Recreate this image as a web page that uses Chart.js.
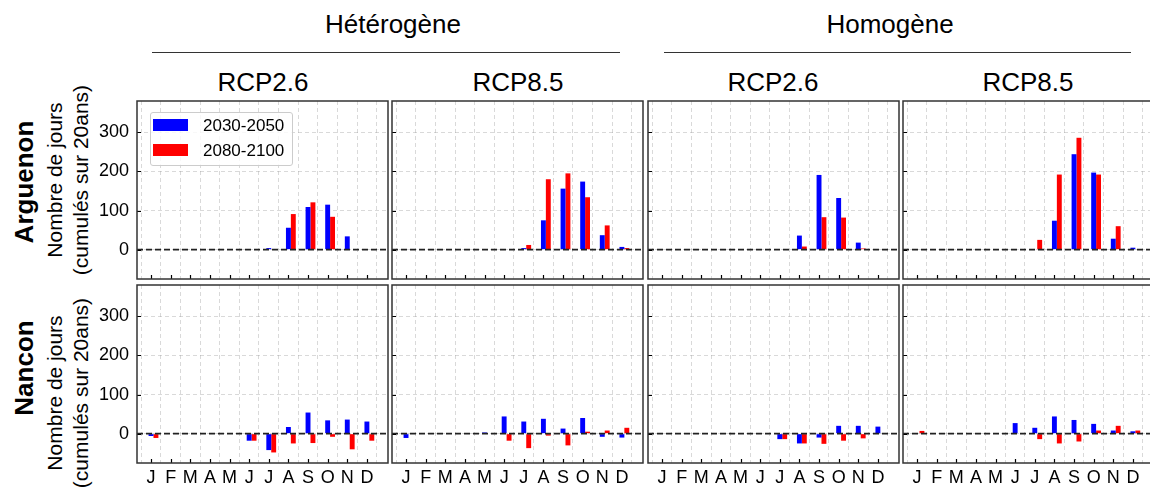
<!DOCTYPE html>
<html>
<head>
<meta charset="utf-8">
<script src="https://cdn.jsdelivr.net/npm/chart.js@4.4.1/dist/chart.umd.min.js"></script>
<style>
  body { margin: 0; background: #fff; }
  #fig { position: relative; width: 1150px; height: 492px; overflow: hidden; background: #fff;
         font-family: "Liberation Sans", Arial, sans-serif; color: #000; }
  #fig canvas { position: absolute; }
  .t { position: absolute; white-space: nowrap; font-size: 26px; line-height: 30px; transform: translateX(-50%); }
  .rot { position: absolute; white-space: nowrap; text-align: center; transform: translate(-50%, -50%) rotate(-90deg); }
  .row-name { font-size: 26px; line-height: 30px; font-weight: bold; }
  .ylab { font-size: 21px; line-height: 26px; }
  .rule { position: absolute; height: 0; border-top: 1.5px solid #333; }
  #legend { position: absolute; left: 150px; top: 112px; width: 143px; height: 54px; z-index: 5;
            background: rgba(255,255,255,0.8); border: 1px solid #ccc; border-radius: 3px; box-sizing: border-box; }
  .sw { position: absolute; width: 35px; height: 12px; z-index: 6; }
  .lt { position: absolute; font-size: 17px; line-height: 20px; z-index: 6; white-space: nowrap; }
</style>
</head>
<body>
<div id="fig">
  <div class="t" style="left:393px; top:9px;">Hétérogène</div>
  <div class="t" style="left:890px; top:9px;">Homogène</div>
  <div class="rule" style="left:152px; top:52px; width:468px;"></div>
  <div class="rule" style="left:664px; top:52px; width:467px;"></div>

  <div class="t" style="left:263px; top:67px;">RCP2.6</div>
  <div class="t" style="left:518px; top:67px;">RCP8.5</div>
  <div class="t" style="left:773px; top:67px;">RCP2.6</div>
  <div class="t" style="left:1028px; top:67px;">RCP8.5</div>

  <div class="rot row-name" style="left:24px; top:182px;">Arguenon</div>
  <div class="rot row-name" style="left:24px; top:368px;">Nancon</div>
  <div class="rot ylab" style="left:68px; top:180px;">Nombre de jours<br>(cumulés sur 20ans)</div>
  <div class="rot ylab" style="left:68px; top:393px;">Nombre de jours<br>(cumulés sur 20ans)</div>

  <div id="legend"></div>
  <div class="sw" style="left:153px; top:119px; background:#0000ff;"></div>
  <div class="lt" id="lt0" style="left:203px; top:116px;"></div>
  <div class="sw" style="left:153px; top:144px; background:#ff0000;"></div>
  <div class="lt" id="lt1" style="left:203px; top:141px;"></div>
</div>

<script>
const months = ["J", "F", "M", "A", "M", "J", "J", "A", "S", "O", "N", "D"];
const periods = ["2030-2050", "2080-2100"];
const periodColors = ["#0000ff", "#ff0000"];
const yTicks = [0, 100, 200, 300];

// Arguenon
const argHet26Early = [0, 0, 0, 0, 0, 0, 4, 56, 109, 115, 34, 0];
const argHet26Late = [0, 0, 0, 0, 0, 0, 0, 91, 121, 84, 0, 0];
const argHet85Early = [0, 0, 0, 0, 0, 0, 4, 75, 156, 174, 37, 7];
const argHet85Late = [0, 0, 0, 0, 0, 0, 12, 180, 195, 134, 62, 4];
const argHom26Early = [0, 0, 0, 0, 0, 0, 0, 36, 191, 132, 18, 0];
const argHom26Late = [0, 0, 0, 0, 0, 0, 0, 8, 83, 82, 3, 0];
const argHom85Early = [0, 0, 0, 0, 0, 0, 0, 74, 244, 197, 28, 5];
const argHom85Late = [0, 0, 0, 0, 0, 0, 25, 192, 286, 192, 60, 0];

// Nancon
const nanHet26Early = [-6, 0, 0, 0, 0, -18, -42, 17, 54, 34, 36, 31];
const nanHet26Late = [-11, 0, 0, 0, 0, -18, -48, -25, -24, -8, -40, -18];
const nanHet85Early = [-11, 0, 0, 0, 3, 44, 31, 38, 13, 40, -8, -10];
const nanHet85Late = [0, 0, 0, 0, 0, -18, -37, -5, -30, 5, 8, 15];
const nanHom26Early = [0, 0, 0, 0, 0, 0, -14, -25, -10, 20, 20, 18];
const nanHom26Late = [0, 0, 0, 0, 0, 0, -14, -25, -26, -18, -12, 0];
const nanHom85Early = [0, 0, 0, 0, 0, 27, 15, 44, 35, 25, 8, 6];
const nanHom85Late = [7, 0, 0, 0, 0, 0, -14, -25, -20, 8, 20, 8];

const panels = [
  { row: 0, col: 0, early: argHet26Early, late: argHet26Late },
  { row: 0, col: 1, early: argHet85Early, late: argHet85Late },
  { row: 0, col: 2, early: argHom26Early, late: argHom26Late },
  { row: 0, col: 3, early: argHom85Early, late: argHom85Late },
  { row: 1, col: 0, early: nanHet26Early, late: nanHet26Late },
  { row: 1, col: 1, early: nanHet85Early, late: nanHet85Late },
  { row: 1, col: 2, early: nanHom26Early, late: nanHom26Late },
  { row: 1, col: 3, early: nanHom85Early, late: nanHom85Late },
];

document.getElementById("lt0").textContent = periods[0];
document.getElementById("lt1").textContent = periods[1];

Chart.defaults.font.family = '"Liberation Sans", Arial, sans-serif';
Chart.defaults.color = "#000";

// panel boxes (plot areas)
const panelW = 251, panelH = 178;
const colLeft = [137, 392, 648, 903];
const rowTop = [101, 285];
const padL = 50, padB = 30, padT = 4, padR = 4;
// blue bar sits on the tick, red bar just right of it
const tickShift = -0.125;
const gridColor = "rgba(160,160,160,0.4)";

const framePlugin = {
  id: "frame",
  afterDraw(chart) {
    const { ctx, chartArea: a, scales: { x, y } } = chart;
    ctx.save();
    const y0 = y.getPixelForValue(0);
    ctx.strokeStyle = "#222";
    ctx.lineWidth = 1.8;
    ctx.setLineDash([6, 3]);
    ctx.beginPath();
    ctx.moveTo(a.left, y0);
    ctx.lineTo(a.right, y0);
    ctx.stroke();
    ctx.setLineDash([]);
    ctx.strokeStyle = "#000";
    ctx.lineWidth = 1.2;
    ctx.beginPath();
    x.ticks.forEach((t) => {
      const px = Math.round(x.getPixelForValue(t.value)) + 0.5;
      ctx.moveTo(px, a.bottom);
      ctx.lineTo(px, a.bottom - 4);
    });
    y.ticks.forEach((t) => {
      const py = Math.round(y.getPixelForValue(t.value)) + 0.5;
      ctx.moveTo(a.left, py);
      ctx.lineTo(a.left + 4, py);
    });
    ctx.stroke();
    ctx.strokeStyle = "#333";
    ctx.lineWidth = 1.5;
    ctx.strokeRect(a.left, a.top, a.right - a.left, a.bottom - a.top);
    ctx.restore();
  },
};

function makePanel(p) {
  const fig = document.getElementById("fig");
  const canvas = document.createElement("canvas");
  canvas.width = padL + panelW + padR;
  canvas.height = padT + panelH + padB;
  canvas.style.left = colLeft[p.col] - padL + "px";
  canvas.style.top = rowTop[p.row] - padT + "px";
  fig.insertBefore(canvas, document.getElementById("legend"));

  const series = [p.early, p.late];
  new Chart(canvas, {
    type: "bar",
    data: {
      datasets: series.map((vals, k) => ({
        label: periods[k],
        data: months.map((m, i) => ({ x: i, y: vals[i] })),
        backgroundColor: periodColors[k],
        borderWidth: 0,
        categoryPercentage: 0.5,
        barPercentage: 1.0,
      })),
    },
    options: {
      responsive: false,
      animation: false,
      devicePixelRatio: 1,
      layout: { padding: { top: padT, right: padR, left: 0, bottom: 0 } },
      plugins: { legend: { display: false }, tooltip: { enabled: false } },
      scales: {
        x: {
          type: "linear",
          min: -0.84,
          max: 11.95,
          offset: false,
          z: 1,
          afterBuildTicks: (s) => {
            s.ticks = months.map((m, i) => ({ value: i + tickShift }));
          },
          afterFit: (s) => {
            s.height = padB;
            s.paddingLeft = 0;
            s.paddingRight = 0;
          },
          ticks: {
            display: p.row === 1,
            autoSkip: false,
            maxRotation: 0,
            padding: 4,
            font: { size: 18 },
            callback: (v, i) => months[i],
          },
          grid: { color: gridColor, lineWidth: 1, drawTicks: false },
          border: { display: false, dash: [4, 3] },
        },
        y: {
          min: -75,
          max: 380,
          z: 1,
          afterBuildTicks: (s) => {
            s.ticks = yTicks.map((v) => ({ value: v }));
          },
          afterFit: (s) => {
            s.width = padL;
            s.paddingTop = 0;
            s.paddingBottom = 0;
          },
          ticks: { display: p.col === 0, padding: 8, font: { size: 18 } },
          grid: { color: gridColor, lineWidth: 1, drawTicks: false },
          border: { display: false, dash: [4, 3] },
        },
      },
    },
    plugins: [framePlugin],
  });
}

panels.forEach(makePanel);
</script>
</body>
</html>
